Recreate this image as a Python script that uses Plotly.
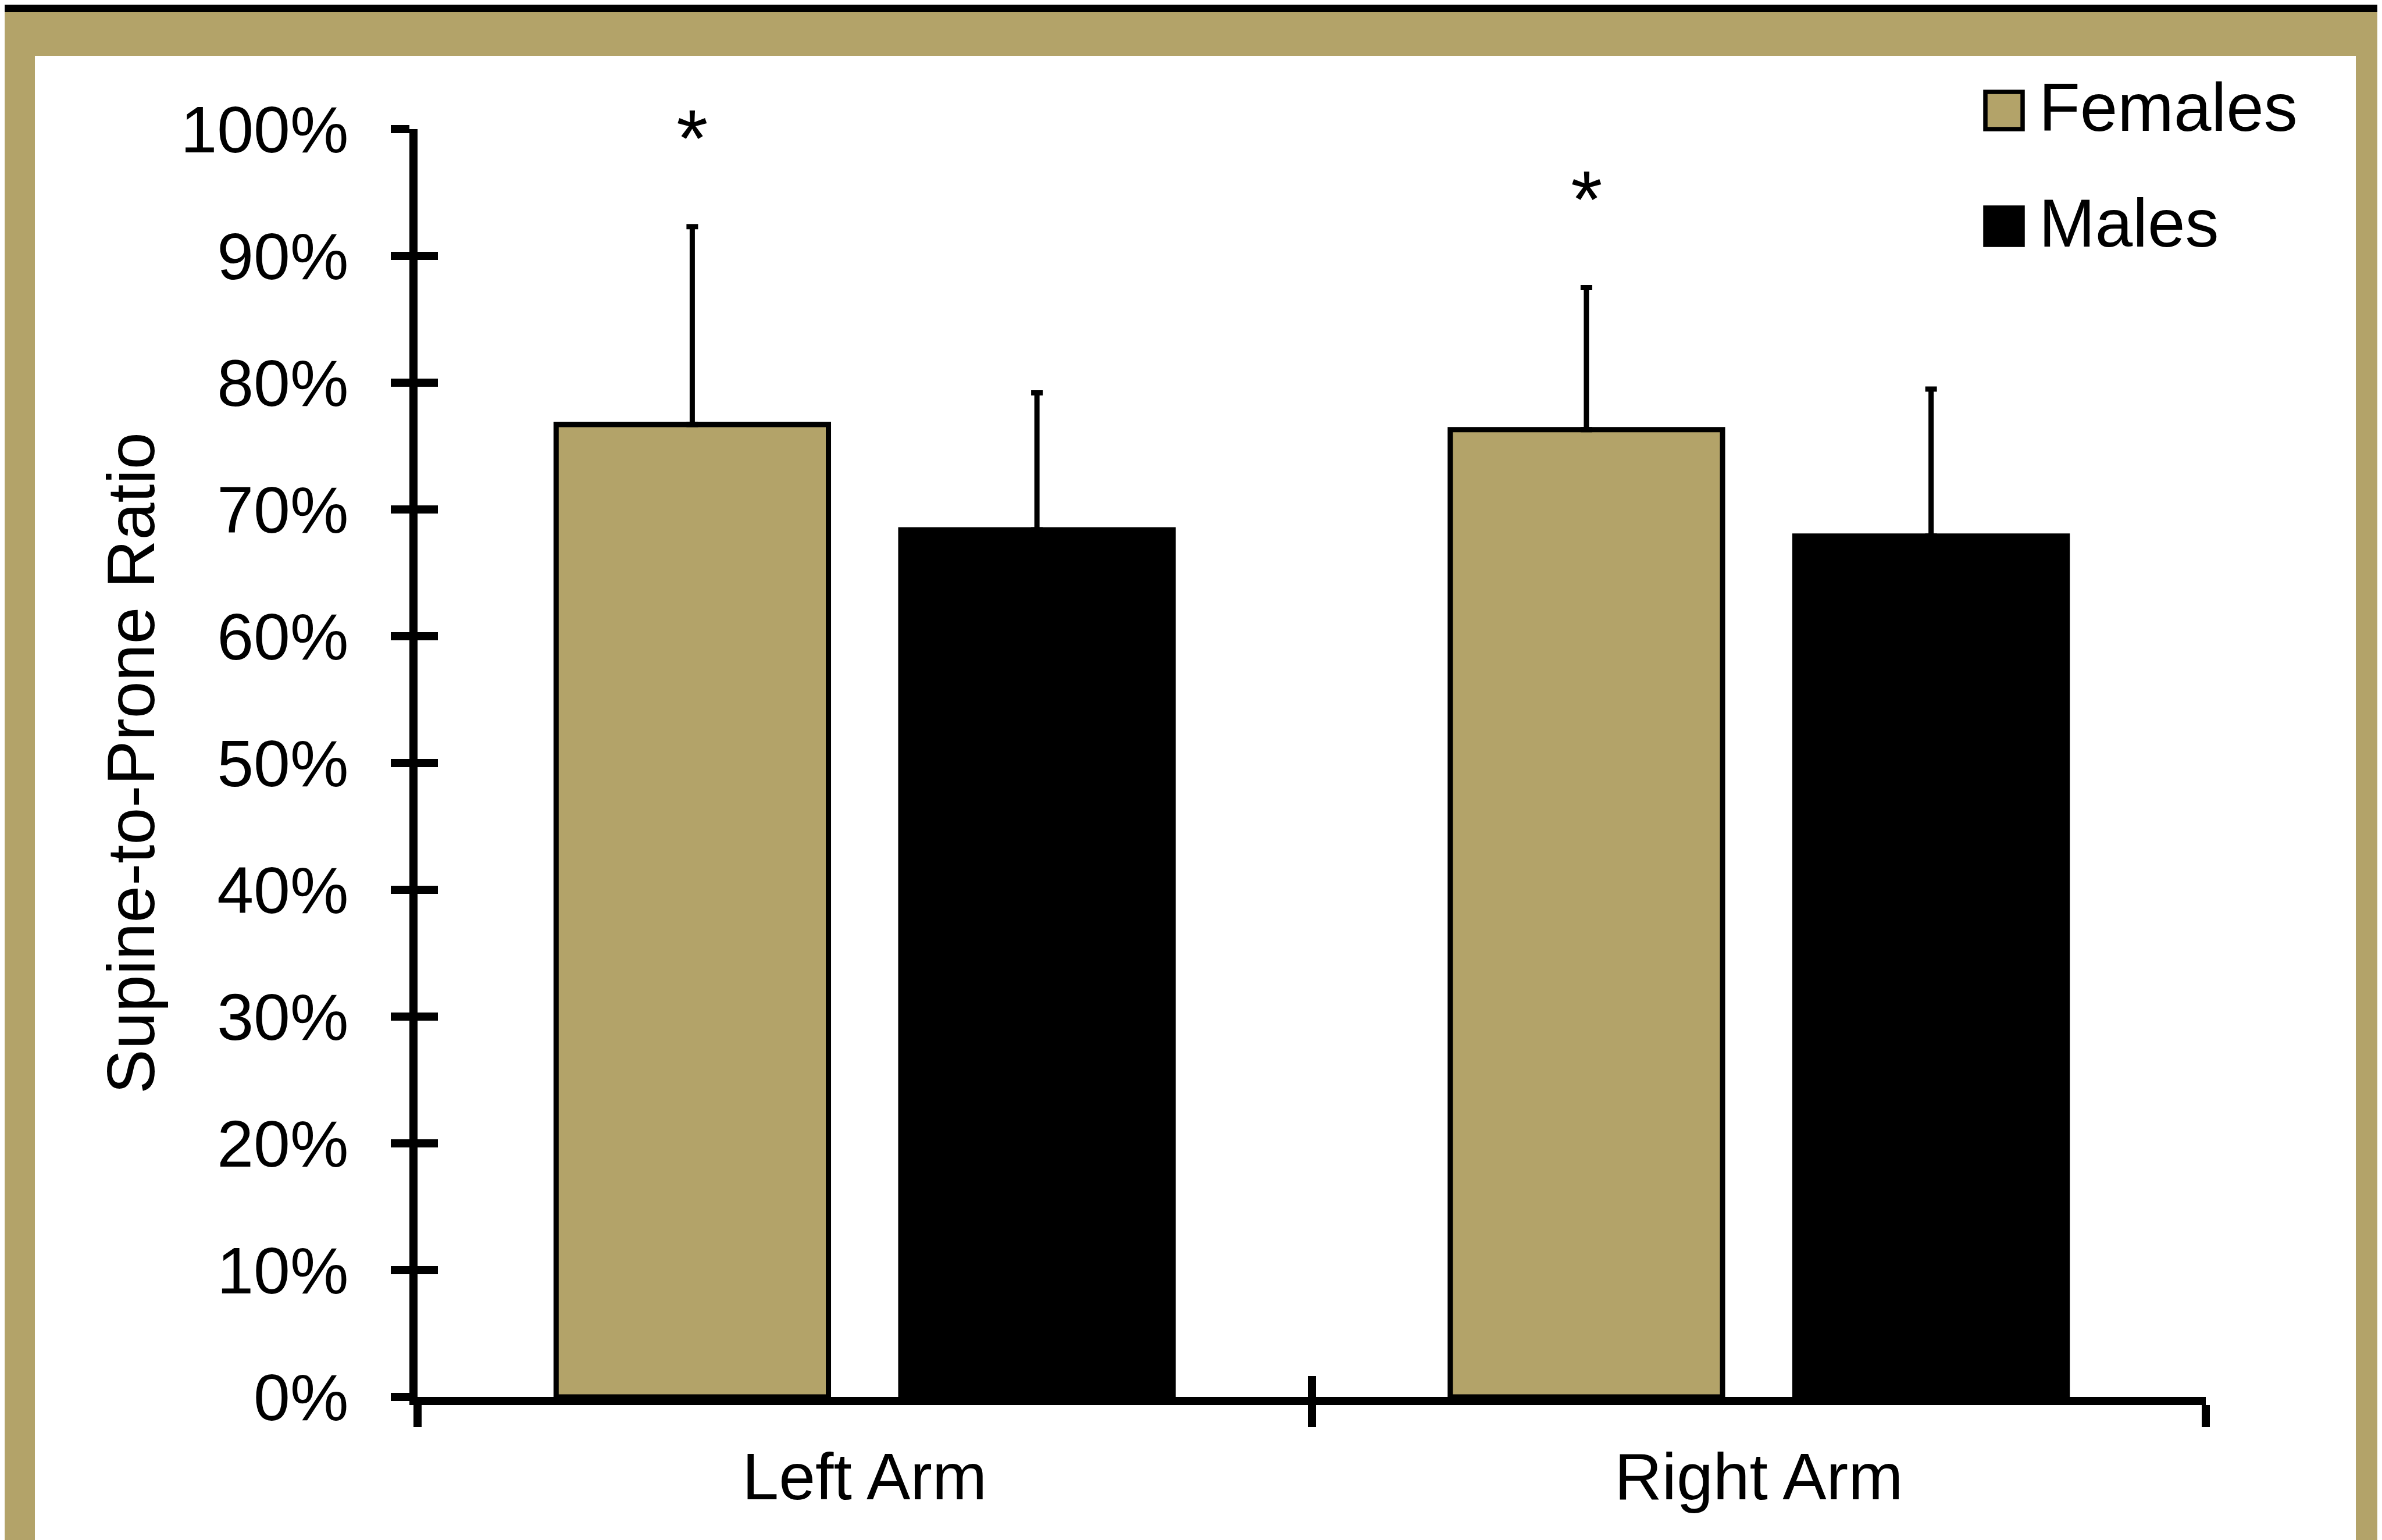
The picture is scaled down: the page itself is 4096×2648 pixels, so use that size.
import plotly.graph_objects as go

# ---------------- data ----------------
categories = ["Left Arm", "Right Arm"]
series_names = ["Females", "Males"]
females_mean = [76.7, 76.3]
females_sd = [15.6, 11.2]
males_mean = [68.4, 67.9]
males_sd = [10.8, 11.6]
females_sig = ["*", "*"]
y_tick_values = [0, 10, 20, 30, 40, 50, 60, 70, 80, 90, 100]
y_tick_labels = ["0%", "10%", "20%", "30%", "40%", "50%", "60%", "70%", "80%", "90%", "100%"]
y_title = "Supine-to-Prone Ratio"

# ---------------- style ----------------
GOLD = "#B3A369"
BLACK = "#000000"
colors = [GOLD, BLACK]
FONT = "Liberation Sans, Arial, sans-serif"

W, H = 4096, 2648
ML, MR, MT, MB = 710, 311, 214, 254
PW = W - ML - MR
PH = H - MT - MB


def xp(px):
    return (px - ML) / PW


def yp(py):
    return (H - MB - py) / PH


BARGAP = 0.229
BARGROUPGAP = 0.21
LINE_W = 14

fig = go.Figure()

means = [females_mean, males_mean]
sds = [females_sd, males_sd]
for name, color, m, s in zip(series_names, colors, means, sds):
    fig.add_trace(go.Bar(
        name=name,
        x=categories,
        y=m,
        marker=dict(color=color, line=dict(color=BLACK, width=9)),
        error_y=dict(type="data", symmetric=False, array=s,
                     arrayminus=[0] * len(s), color=BLACK,
                     thickness=9, width=10),
        showlegend=False,
    ))

# invisible trace carrying the overlay axes used for the inner half of the crossing ticks
fig.add_trace(go.Scatter(x=[None], y=[None], xaxis="x2", yaxis="y2",
                         showlegend=False, hoverinfo="skip"))

boundaries = [i - 0.5 for i in range(len(categories) + 1)]
xrange = [-0.5, len(categories) - 0.5]

fig.update_layout(
    width=W, height=H,
    margin=dict(l=ML, r=MR, t=MT, b=MB, autoexpand=False),
    paper_bgcolor="white",
    plot_bgcolor="rgba(0,0,0,0)",
    barmode="group",
    bargap=BARGAP,
    bargroupgap=BARGROUPGAP,
    font=dict(family=FONT, color=BLACK, size=113),
    showlegend=False,
    xaxis=dict(
        type="category", categoryorder="array", categoryarray=categories,
        range=xrange, tickson="boundaries",
        ticks="outside", ticklen=38, tickwidth=LINE_W, tickcolor=BLACK,
        showline=True, linewidth=LINE_W, linecolor=BLACK,
        showgrid=False, zeroline=False,
        tickfont=dict(size=113, family=FONT, color=BLACK),
        ticklabelstandoff=26,
        automargin=False,
    ),
    yaxis=dict(
        range=[0, 100], tickmode="array", tickvals=y_tick_values, ticktext=y_tick_labels,
        ticks="outside", ticklen=32, tickwidth=LINE_W, tickcolor=BLACK,
        showline=True, linewidth=LINE_W, linecolor=BLACK,
        showgrid=False, zeroline=False,
        tickfont=dict(size=113, family=FONT, color=BLACK),
        ticklabelstandoff=50,
        title=dict(text=y_title, font=dict(size=115, family=FONT, color=BLACK), standoff=12),
        automargin=False,
    ),
    xaxis2=dict(
        overlaying="x", anchor="y", side="bottom", range=xrange,
        tickmode="array", tickvals=boundaries, showticklabels=False,
        ticks="inside", ticklen=36, tickwidth=LINE_W, tickcolor=BLACK,
        showline=False, showgrid=False, zeroline=False, automargin=False,
    ),
    yaxis2=dict(
        overlaying="y", anchor="x", side="left", range=[0, 100],
        tickmode="array", tickvals=y_tick_values, showticklabels=False,
        ticks="inside", ticklen=35, tickwidth=LINE_W, tickcolor=BLACK,
        showline=False, showgrid=False, zeroline=False, automargin=False,
    ),
)

# frame: black strip and gold border around the white panel
shapes = [
    dict(type="rect", xref="paper", yref="paper", x0=xp(0), x1=xp(W), y0=yp(0), y1=yp(13),
         fillcolor=BLACK, line=dict(width=0), layer="below"),
    dict(type="rect", xref="paper", yref="paper", x0=xp(0), x1=xp(W), y0=yp(13), y1=yp(88),
         fillcolor=GOLD, line=dict(width=0), layer="below"),
    dict(type="rect", xref="paper", yref="paper", x0=xp(0), x1=xp(52), y0=yp(13), y1=yp(H),
         fillcolor=GOLD, line=dict(width=0), layer="below"),
    dict(type="rect", xref="paper", yref="paper", x0=xp(4043), x1=xp(W), y0=yp(13), y1=yp(H),
         fillcolor=GOLD, line=dict(width=0), layer="below"),
]

annotations = []
# legend drawn by hand (large square keys)
for i, (name, color) in enumerate(zip(series_names, colors)):
    cy = 182 + i * 199
    shapes.append(dict(type="rect", xref="paper", yref="paper",
                       x0=xp(3406), x1=xp(3470), y0=yp(cy + 32), y1=yp(cy - 32),
                       fillcolor=color, line=dict(color=BLACK, width=7.5)))
    annotations.append(dict(xref="paper", yref="paper", x=xp(3496), y=yp(cy - 5),
                            xanchor="left", yanchor="middle", text=name, showarrow=False,
                            font=dict(size=116, family=FONT, color=BLACK)))

# significance asterisks above the female bars
female_offset = -(1 - BARGAP) / 4
for i, (sig, m, s) in enumerate(zip(females_sig, females_mean, females_sd)):
    if sig:
        annotations.append(dict(xref="x", yref="y", x=i + female_offset, y=m + s,
                                yshift=152, xanchor="center", yanchor="middle",
                                text=sig, showarrow=False,
                                font=dict(size=140, family=FONT, color=BLACK)))

fig.update_layout(shapes=shapes, annotations=annotations)

fig.write_html("out.html")
